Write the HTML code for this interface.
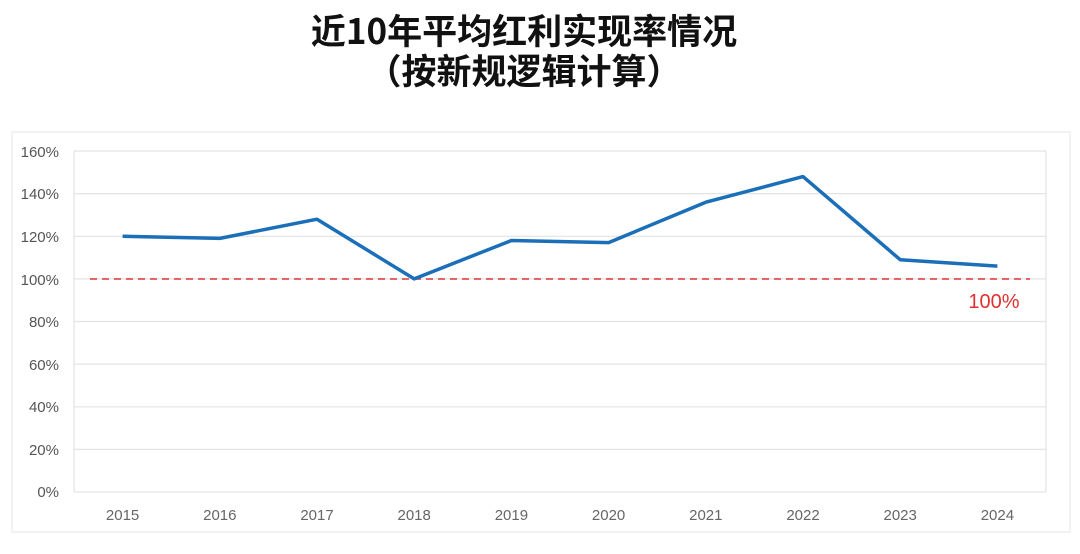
<!DOCTYPE html>
<html><head><meta charset="utf-8"><style>
body{margin:0;background:#fff;width:1080px;height:549px;overflow:hidden;font-family:"Liberation Sans","Noto Sans CJK SC",sans-serif}
</style></head><body>
<svg width="1080" height="549" xmlns="http://www.w3.org/2000/svg">
<text x="524" y="44" text-anchor="middle" font-family="'Noto Sans CJK SC',sans-serif" font-weight="bold" font-size="35" fill="#111">近10年平均红利实现率情况</text>
<text x="524" y="84" text-anchor="middle" font-family="'Noto Sans CJK SC',sans-serif" font-weight="bold" font-size="35" fill="#111">（按新规逻辑计算）</text>
<rect x="12" y="132" width="1058" height="400" fill="none" stroke="#eee" stroke-width="1.5"/>
<g stroke="#e3e3e3" stroke-width="1.2">
<line x1="74" x2="1046" y1="151" y2="151"/>
<line x1="74" x2="1046" y1="193.6" y2="193.6"/>
<line x1="74" x2="1046" y1="236.3" y2="236.3"/>
<line x1="74" x2="1046" y1="278.9" y2="278.9"/>
<line x1="74" x2="1046" y1="321.5" y2="321.5"/>
<line x1="74" x2="1046" y1="364.1" y2="364.1"/>
<line x1="74" x2="1046" y1="406.8" y2="406.8"/>
<line x1="74" x2="1046" y1="449.4" y2="449.4"/>
<line x1="74" x2="1046" y1="492" y2="492"/>
<line x1="74" x2="74" y1="151" y2="492"/>
<line x1="1046" x2="1046" y1="151" y2="492"/>
</g>
<g font-size="15" fill="#555" text-anchor="end">
<text x="59" y="157">160%</text><text x="59" y="199">140%</text><text x="59" y="242">120%</text><text x="59" y="285">100%</text><text x="59" y="327">80%</text><text x="59" y="370">60%</text><text x="59" y="412">40%</text><text x="59" y="455">20%</text><text x="59" y="497">0%</text>
</g>
<g font-size="15" fill="#666" text-anchor="middle">
<text x="122.6" y="520">2015</text><text x="219.8" y="520">2016</text><text x="317" y="520">2017</text><text x="414.2" y="520">2018</text><text x="511.4" y="520">2019</text><text x="608.6" y="520">2020</text><text x="705.8" y="520">2021</text><text x="803" y="520">2022</text><text x="900.2" y="520">2023</text><text x="997.4" y="520">2024</text>
</g>
<line x1="90" x2="1030" y1="279" y2="279" stroke="#e05050" stroke-width="1.8" stroke-dasharray="7,5"/>
<text x="994" y="308" text-anchor="middle" font-size="20" fill="#e03030">100%</text>
<polyline fill="none" stroke="#1a6fb8" stroke-width="3.5" stroke-linejoin="round" points="122.6,236.3 219.8,238.4 317,219.2 414.2,278.9 511.4,240.5 608.6,242.6 705.8,202.2 803,176.6 900.2,259.7 997.4,266.1"/>
</svg>
</body></html>
